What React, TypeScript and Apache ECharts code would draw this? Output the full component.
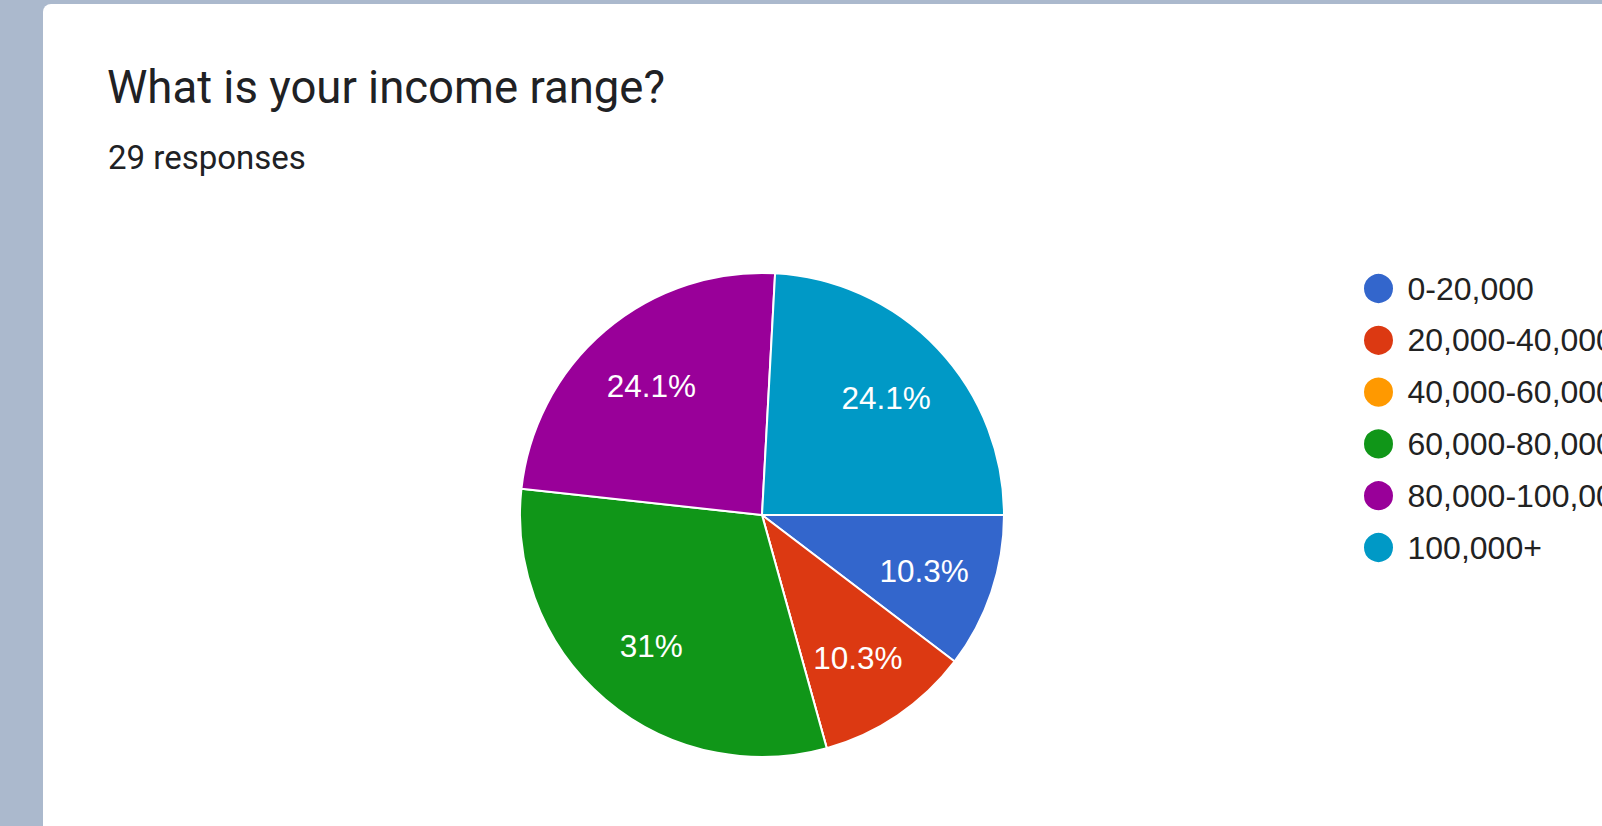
import React, { useEffect, useRef } from "react";
import * as echarts from "echarts";

const categories = ["0-20,000", "20,000-40,000", "40,000-60,000", "60,000-80,000", "80,000-100,000", "100,000+"];
const responses = [3, 3, 0, 9, 7, 7];
const sliceColors = ["#3366cc", "#dc3912", "#ff9900", "#109618", "#990099", "#0099c6"];
const titleText = "What is your income range?";
const subtitleText = "29 responses";

export default function App() {
  const ref = useRef<HTMLDivElement>(null);

  useEffect(() => {
    if (!ref.current) return;
    const chart = echarts.init(ref.current, undefined, { renderer: "svg" });
    const total = responses.reduce((a, b) => a + b, 0);
    const data = categories.map((name, i) => ({
      name,
      value: responses[i],
      itemStyle: { color: sliceColors[i] },
    }));
    const labelData = categories.map((name, i) => ({ name, value: responses[i] }));

    chart.setOption({
      animation: false,
      backgroundColor: "transparent",
      color: sliceColors,
      title: [
        {
          text: titleText,
          left: 107,
          top: 64,
          padding: 0,
          textStyle: {
            fontFamily: "Roboto",
            fontSize: 45.5,
            fontWeight: "normal",
            color: "#202124",
          },
        },
        {
          text: subtitleText,
          left: 108,
          top: 141,
          padding: 0,
          textStyle: {
            fontFamily: "Roboto",
            fontSize: 33,
            fontWeight: "normal",
            color: "#202124",
          },
        },
      ],
      legend: {
        orient: "vertical",
        left: 1362,
        top: 272,
        padding: 0,
        itemWidth: 48,
        itemHeight: 31,
        itemGap: 18.8,
        icon: "circle",
        selectedMode: false,
        data: categories,
        textStyle: {
          fontFamily: "Liberation Sans, Arial",
          fontSize: 32,
          lineHeight: 31,
          color: "#222222",
        },
      },
      series: [
        {
          type: "pie",
          center: [762, 515],
          radius: [0, 242],
          startAngle: 0,
          clockwise: true,
          silent: true,
          itemStyle: { borderColor: "#ffffff", borderWidth: 2 },
          label: { show: false },
          labelLine: { show: false },
          data,
        },
        {
          type: "pie",
          center: [762, 515],
          radius: [94, 242],
          startAngle: 0,
          clockwise: true,
          silent: true,
          itemStyle: { color: "rgba(0,0,0,0)", borderWidth: 0 },
          label: {
            show: true,
            position: "inside",
            color: "#ffffff",
            fontFamily: "Liberation Sans, Arial",
            fontSize: 31.5,
            offset: [0, 1],
            formatter: (p: any) => {
              if (!p.value) return "";
              const pct = Math.round((p.value / total) * 1000) / 10;
              return pct + "%";
            },
          },
          labelLine: { show: false },
          data: labelData,
        },
      ],
    });

    return () => chart.dispose();
  }, []);

  return (
    <div style={{ position: "fixed", left: 0, top: 0, width: 1602, height: 826, background: "#abb9cd", overflow: "hidden" }}>
      <div
        style={{
          position: "absolute",
          left: 43,
          top: 4,
          right: 0,
          bottom: 0,
          background: "#ffffff",
          borderTopLeftRadius: 8,
        }}
      />
      <div ref={ref} style={{ position: "absolute", left: 0, top: 0, width: 1602, height: 826 }} />
    </div>
  );
}
